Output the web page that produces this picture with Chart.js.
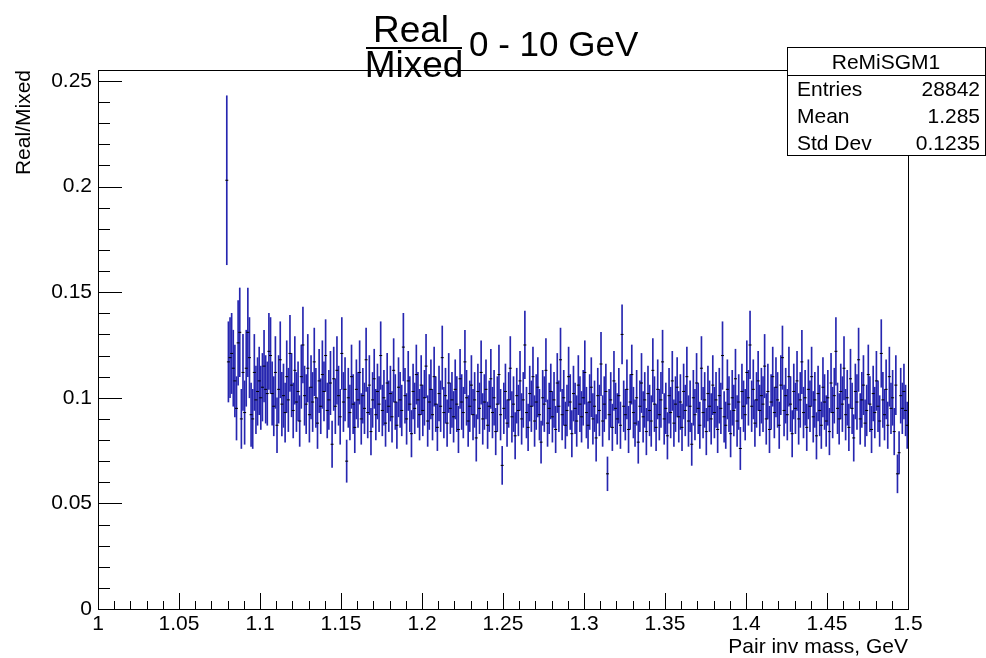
<!DOCTYPE html>
<html>
<head>
<meta charset="utf-8">
<script src="https://cdn.jsdelivr.net/npm/chart.js@4.4.1/dist/chart.umd.min.js"></script>
<style>
  html, body { margin: 0; padding: 0; background: #fff; }
  #wrap { width: 986px; height: 658px; }
</style>
</head>
<body>
<div id="wrap"><canvas id="ratioChart" width="986" height="658"></canvas></div>
<script>
// ReMiSGM1 : Real/Mixed ratio, 1 MeV bins starting at 1.079 GeV
const binStart = 1.079;
const binWidth = 0.001;

const ratio = [
  0.203, 0.117, 0.119, 0.121, 0.114, 0.108, 0.095, 0.126, 0.131, 0.090, 0.112, 0.093, 0.114, 0.131, 0.119, 0.092, 0.090, 0.112, 0.099, 0.103,
  0.108, 0.100, 0.105, 0.115, 0.104, 0.102, 0.122, 0.120, 0.102, 0.096, 0.112, 0.087, 0.104, 0.118, 0.097, 0.101, 0.093, 0.110, 0.099, 0.121,
  0.106, 0.094, 0.113, 0.098, 0.103, 0.089, 0.110, 0.125, 0.101, 0.097, 0.114, 0.092, 0.105, 0.098, 0.117, 0.100, 0.088, 0.108, 0.096, 0.111,
  0.103, 0.120, 0.094, 0.099, 0.107, 0.078, 0.109, 0.096, 0.113, 0.101, 0.091, 0.121, 0.098, 0.104, 0.070, 0.100, 0.093, 0.110, 0.097, 0.086,
  0.104, 0.099, 0.112, 0.090, 0.101, 0.095, 0.118, 0.093, 0.106, 0.084, 0.099, 0.109, 0.092, 0.103, 0.097, 0.120, 0.094, 0.100, 0.088, 0.107,
  0.096, 0.102, 0.091, 0.113, 0.098, 0.087, 0.105, 0.099, 0.094, 0.124, 0.101, 0.090, 0.108, 0.097, 0.083, 0.103, 0.095, 0.111, 0.099, 0.092,
  0.106, 0.094, 0.100, 0.115, 0.089, 0.098, 0.104, 0.092, 0.110, 0.097, 0.086, 0.102, 0.096, 0.119, 0.093, 0.101, 0.088, 0.107, 0.095, 0.099,
  0.091, 0.104, 0.097, 0.085, 0.109, 0.098, 0.093, 0.117, 0.100, 0.089, 0.096, 0.106, 0.092, 0.099, 0.081, 0.103, 0.095, 0.112, 0.090, 0.098,
  0.104, 0.087, 0.096, 0.109, 0.093, 0.100, 0.084, 0.097, 0.111, 0.092, 0.068, 0.095, 0.103, 0.088, 0.099, 0.114, 0.091, 0.097, 0.082, 0.101,
  0.094, 0.108, 0.090, 0.099, 0.125, 0.093, 0.086, 0.102, 0.096, 0.110, 0.089, 0.098, 0.105, 0.092, 0.079, 0.100, 0.097, 0.113, 0.088, 0.095,
  0.103, 0.091, 0.099, 0.085, 0.107, 0.096, 0.118, 0.092, 0.100, 0.087, 0.094, 0.110, 0.098, 0.083, 0.102, 0.095, 0.089, 0.106, 0.097, 0.091,
  0.100, 0.112, 0.093, 0.087, 0.098, 0.105, 0.090, 0.096, 0.081, 0.101, 0.094, 0.116, 0.089, 0.097, 0.103, 0.064, 0.092, 0.099, 0.086, 0.108,
  0.095, 0.090, 0.101, 0.087, 0.130, 0.096, 0.092, 0.104, 0.085, 0.098, 0.111, 0.093, 0.088, 0.100, 0.079, 0.096, 0.107, 0.091, 0.099, 0.084,
  0.102, 0.094, 0.089, 0.113, 0.097, 0.086, 0.104, 0.092, 0.099, 0.117, 0.090, 0.095, 0.082, 0.101, 0.093, 0.108, 0.088, 0.097, 0.105, 0.091,
  0.098, 0.086, 0.103, 0.094, 0.110, 0.089, 0.096, 0.078, 0.100, 0.092, 0.107, 0.095, 0.087, 0.114, 0.093, 0.099, 0.084, 0.102, 0.096, 0.090,
  0.106, 0.093, 0.099, 0.085, 0.101, 0.095, 0.120, 0.091, 0.087, 0.104, 0.097, 0.083, 0.100, 0.094, 0.109, 0.089, 0.098, 0.076, 0.103, 0.096,
  0.092, 0.112, 0.100, 0.125, 0.096, 0.104, 0.088, 0.099, 0.108, 0.094, 0.101, 0.097, 0.115, 0.090, 0.103, 0.085, 0.098, 0.110, 0.093, 0.105,
  0.099, 0.087, 0.106, 0.119, 0.094, 0.101, 0.092, 0.110, 0.097, 0.083, 0.103, 0.095, 0.108, 0.090, 0.099, 0.117, 0.093, 0.100, 0.086, 0.104,
  0.096, 0.110, 0.091, 0.099, 0.082, 0.102, 0.094, 0.087, 0.105, 0.098, 0.089, 0.100, 0.084, 0.107, 0.093, 0.101, 0.122, 0.095, 0.090, 0.103,
  0.097, 0.114, 0.092, 0.100, 0.086, 0.109, 0.095, 0.081, 0.103, 0.098, 0.118, 0.090, 0.099, 0.106, 0.088, 0.094, 0.111, 0.097, 0.085, 0.102,
  0.093, 0.108, 0.096, 0.089, 0.121, 0.099, 0.092, 0.104, 0.087, 0.110, 0.095, 0.100, 0.084, 0.106, 0.064, 0.074, 0.101, 0.095, 0.103, 0.094,
  0.087
];

const ratioErr = [
  0.040, 0.019, 0.019, 0.019, 0.018, 0.017, 0.015, 0.020, 0.021, 0.014, 0.018, 0.015, 0.018, 0.021, 0.019, 0.015, 0.014, 0.018, 0.016, 0.016,
  0.016, 0.015, 0.016, 0.017, 0.016, 0.015, 0.018, 0.018, 0.015, 0.014, 0.017, 0.013, 0.016, 0.018, 0.015, 0.015, 0.014, 0.017, 0.015, 0.018,
  0.015, 0.013, 0.016, 0.014, 0.014, 0.012, 0.015, 0.018, 0.014, 0.014, 0.016, 0.013, 0.015, 0.014, 0.016, 0.014, 0.012, 0.015, 0.013, 0.016,
  0.014, 0.017, 0.013, 0.014, 0.015, 0.011, 0.015, 0.013, 0.016, 0.014, 0.013, 0.017, 0.014, 0.015, 0.010, 0.014, 0.013, 0.015, 0.014, 0.012,
  0.014, 0.013, 0.015, 0.012, 0.013, 0.012, 0.015, 0.012, 0.014, 0.011, 0.013, 0.014, 0.012, 0.013, 0.013, 0.016, 0.012, 0.013, 0.011, 0.014,
  0.012, 0.013, 0.012, 0.015, 0.013, 0.011, 0.014, 0.013, 0.012, 0.016, 0.013, 0.012, 0.014, 0.013, 0.011, 0.013, 0.012, 0.014, 0.013, 0.012,
  0.014, 0.012, 0.013, 0.015, 0.012, 0.013, 0.014, 0.012, 0.014, 0.013, 0.011, 0.013, 0.012, 0.015, 0.012, 0.013, 0.011, 0.014, 0.012, 0.013,
  0.012, 0.014, 0.013, 0.011, 0.014, 0.013, 0.012, 0.015, 0.013, 0.012, 0.012, 0.014, 0.012, 0.013, 0.011, 0.013, 0.012, 0.015, 0.012, 0.013,
  0.014, 0.011, 0.012, 0.014, 0.012, 0.013, 0.011, 0.013, 0.014, 0.012, 0.009, 0.012, 0.013, 0.011, 0.013, 0.015, 0.012, 0.013, 0.011, 0.013,
  0.012, 0.014, 0.012, 0.013, 0.016, 0.012, 0.011, 0.013, 0.012, 0.014, 0.012, 0.013, 0.014, 0.012, 0.010, 0.013, 0.013, 0.015, 0.011, 0.012,
  0.013, 0.012, 0.013, 0.011, 0.014, 0.012, 0.015, 0.012, 0.013, 0.011, 0.012, 0.014, 0.013, 0.011, 0.013, 0.012, 0.012, 0.014, 0.013, 0.012,
  0.013, 0.015, 0.012, 0.011, 0.013, 0.014, 0.012, 0.012, 0.011, 0.013, 0.012, 0.015, 0.012, 0.013, 0.013, 0.008, 0.012, 0.013, 0.011, 0.014,
  0.012, 0.012, 0.013, 0.011, 0.014, 0.012, 0.012, 0.014, 0.011, 0.013, 0.014, 0.012, 0.011, 0.013, 0.010, 0.012, 0.014, 0.012, 0.013, 0.011,
  0.013, 0.012, 0.012, 0.015, 0.013, 0.011, 0.014, 0.012, 0.013, 0.015, 0.012, 0.012, 0.011, 0.013, 0.012, 0.014, 0.011, 0.013, 0.014, 0.012,
  0.013, 0.011, 0.013, 0.012, 0.014, 0.012, 0.012, 0.010, 0.013, 0.012, 0.014, 0.012, 0.011, 0.015, 0.012, 0.013, 0.011, 0.013, 0.012, 0.012,
  0.014, 0.012, 0.013, 0.011, 0.013, 0.012, 0.016, 0.012, 0.011, 0.014, 0.013, 0.011, 0.013, 0.012, 0.014, 0.012, 0.013, 0.010, 0.013, 0.012,
  0.012, 0.015, 0.013, 0.016, 0.012, 0.014, 0.011, 0.013, 0.014, 0.012, 0.013, 0.013, 0.015, 0.012, 0.013, 0.011, 0.013, 0.014, 0.012, 0.014,
  0.013, 0.011, 0.014, 0.015, 0.012, 0.013, 0.012, 0.014, 0.013, 0.011, 0.013, 0.012, 0.014, 0.012, 0.013, 0.015, 0.012, 0.013, 0.011, 0.014,
  0.012, 0.014, 0.012, 0.013, 0.011, 0.013, 0.012, 0.011, 0.014, 0.013, 0.012, 0.013, 0.011, 0.014, 0.012, 0.013, 0.016, 0.012, 0.012, 0.013,
  0.013, 0.015, 0.012, 0.013, 0.011, 0.014, 0.012, 0.011, 0.013, 0.013, 0.015, 0.012, 0.013, 0.014, 0.011, 0.012, 0.014, 0.013, 0.011, 0.013,
  0.012, 0.014, 0.012, 0.012, 0.016, 0.013, 0.012, 0.014, 0.011, 0.014, 0.012, 0.013, 0.011, 0.014, 0.009, 0.010, 0.013, 0.012, 0.013, 0.012,
  0.011
];

const xTickValues = [1, 1.05, 1.1, 1.15, 1.2, 1.25, 1.3, 1.35, 1.4, 1.45, 1.5];
const xTickLabels = ["1", "1.05", "1.1", "1.15", "1.2", "1.25", "1.3", "1.35", "1.4", "1.45", "1.5"];
const yTickValues = [0, 0.05, 0.1, 0.15, 0.2, 0.25];
const yTickLabels = ["0", "0.05", "0.1", "0.15", "0.2", "0.25"];

const statsName = "ReMiSGM1";
const statsLabels = ["Entries", "Mean", "Std Dev"];
const statsValues = ["28842", "1.285", "0.1235"];

const FONT = '"Liberation Sans", Arial, Helvetica, sans-serif';
const barColor = "#2626b0";

// bin centres
const centres = ratio.map((_, i) => binStart + binWidth * (i + 0.5));
const errorBars = ratio.map((v, i) => ({ x: centres[i], y: [v - ratioErr[i], v + ratioErr[i]] }));
const markers = ratio.map((v, i) => ({ x: centres[i], y: v }));

// frame, inner ticks, titles and stat box in ROOT style
const rootPad = {
  id: "rootPad",
  afterDraw(chart) {
    const { ctx, chartArea: a, scales } = chart;
    const xs = scales.x, ys = scales.y;
    ctx.save();
    ctx.strokeStyle = "#000";
    ctx.lineWidth = 1;

    ctx.beginPath();
    for (let i = 0; i <= 50; i++) {
      const px = Math.round(xs.getPixelForValue(1 + i * 0.01)) + 0.5;
      const len = i % 5 === 0 ? 16 : 8;
      ctx.moveTo(px, a.bottom);
      ctx.lineTo(px, a.bottom - len);
    }
    for (let i = 0; i <= 25; i++) {
      const py = Math.round(ys.getPixelForValue(i * 0.01)) + 0.5;
      const len = i % 5 === 0 ? 24 : 12;
      ctx.moveTo(a.left, py);
      ctx.lineTo(a.left + len, py);
    }
    ctx.stroke();
    ctx.strokeRect(a.left + 0.5, a.top + 0.5, a.right - a.left, a.bottom - a.top);

    // title: Real over Mixed, then the energy range
    ctx.fillStyle = "#000";
    ctx.textBaseline = "alphabetic";
    ctx.font = "37px " + FONT;
    ctx.textAlign = "center";
    ctx.fillText("Real", 411, 42);
    ctx.fillText("Mixed", 414, 77);
    ctx.fillRect(366, 47, 96, 2);
    ctx.font = "35px " + FONT;
    ctx.textAlign = "left";
    ctx.fillText("0 - 10 GeV", 469, 56);

    // axis titles
    ctx.font = "21px " + FONT;
    ctx.textAlign = "right";
    ctx.fillText("Pair inv mass, GeV", a.right, 653);
    ctx.save();
    ctx.translate(30, a.top);
    ctx.rotate(-Math.PI / 2);
    ctx.fillText("Real/Mixed", 0, 0);
    ctx.restore();

    // statistics box
    const bx = 787, by = 47, bw = 198, bh = 108;
    ctx.fillStyle = "#fff";
    ctx.fillRect(bx, by, bw, bh);
    ctx.strokeRect(bx + 0.5, by + 0.5, bw, bh);
    ctx.beginPath();
    ctx.moveTo(bx, by + 28.5);
    ctx.lineTo(bx + bw, by + 28.5);
    ctx.stroke();
    ctx.fillStyle = "#000";
    ctx.font = "21px " + FONT;
    ctx.textAlign = "center";
    ctx.fillText(statsName, bx + bw / 2, by + 22);
    statsLabels.forEach((lab, i) => {
      const ty = by + 49 + i * 27;
      ctx.textAlign = "left";
      ctx.fillText(lab, bx + 10, ty);
      ctx.textAlign = "right";
      ctx.fillText(statsValues[i], bx + bw - 5, ty);
    });
    ctx.restore();
  }
};

Chart.defaults.color = "#000";
Chart.defaults.font.family = FONT;

new Chart(document.getElementById("ratioChart"), {
  type: "bar",
  data: {
    datasets: [
      {
        type: "scatter",
        data: markers,
        pointStyle: "line",
        pointRadius: 1.5,
        borderColor: "#000",
        borderWidth: 1,
        order: 0
      },
      {
        type: "bar",
        data: errorBars,
        backgroundColor: barColor,
        borderWidth: 0,
        barThickness: 1,
        grouped: false,
        order: 1
      }
    ]
  },
  options: {
    responsive: false,
    animation: false,
    events: [],
    layout: { padding: { top: 70, right: 78, left: 0, bottom: 0 } },
    plugins: { legend: { display: false }, tooltip: { enabled: false } },
    scales: {
      x: {
        type: "linear",
        min: 1,
        max: 1.5,
        offset: false,
        grid: { display: false, drawTicks: false },
        border: { display: false },
        afterBuildTicks: (s) => { s.ticks = xTickValues.map((v) => ({ value: v })); },
        afterFit: (s) => { s.height = 49; },
        ticks: {
          padding: 3,
          maxRotation: 0,
          autoSkip: false,
          font: { size: 21 },
          callback: (v, i) => xTickLabels[i]
        }
      },
      y: {
        type: "linear",
        min: 0,
        max: 0.2552,
        grid: { display: false, drawTicks: false },
        border: { display: false },
        afterBuildTicks: (s) => { s.ticks = yTickValues.map((v) => ({ value: v })); },
        afterFit: (s) => { s.width = 98; },
        ticks: {
          padding: 6,
          autoSkip: false,
          font: { size: 21 },
          callback: (v, i) => yTickLabels[i]
        }
      }
    }
  },
  plugins: [rootPad]
});
</script>
</body>
</html>
